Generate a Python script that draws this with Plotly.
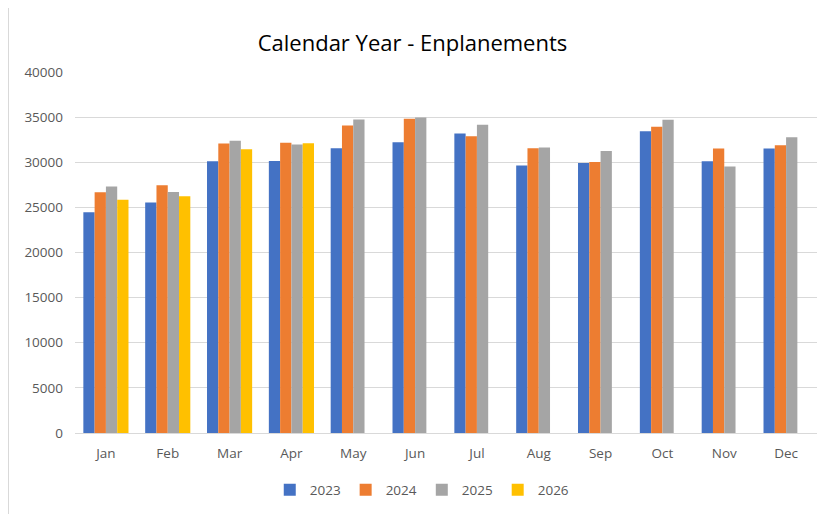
import plotly.graph_objects as go

months = ["Jan", "Feb", "Mar", "Apr", "May", "Jun", "Jul", "Aug", "Sep", "Oct", "Nov", "Dec"]
y2023 = [24450, 25550, 30110, 30150, 31560, 32220, 33190, 29630, 29930, 33440, 30110, 31520]
y2024 = [26670, 27440, 32070, 32150, 34070, 34820, 32890, 31560, 30040, 33930, 31520, 31890]
y2025 = [27300, 26700, 32370, 31960, 34740, 34960, 34150, 31630, 31260, 34700, 29520, 32780]
y2026 = [25850, 26220, 31440, 32110, None, None, None, None, None, None, None, None]

series = [("2023", y2023, "#4472C4"), ("2024", y2024, "#ED7D31"),
          ("2025", y2025, "#A5A5A5"), ("2026", y2026, "#FFC000")]

fig = go.Figure()
for name, vals, col in series:
    fig.add_trace(go.Bar(x=months, y=vals, name=name, marker_color=col,
                         marker_line_width=0))

font_fam = "Open Sans, Liberation Sans, sans-serif"
W, H = 823, 506
L, R, T, B = 67, 14, 64, 81
pw, ph = W - L - R, H - T - B
fig.update_layout(
    width=W, height=H,
    barmode="group", bargap=0.27, bargroupgap=0,
    margin=dict(l=L, r=R, t=T, b=B, autoexpand=False),
    paper_bgcolor="white", plot_bgcolor="white",
    title=dict(text="Calendar Year - Enplanements", x=404.5 / W, xanchor="center",
               y=1 - 35 / H, yanchor="middle",
               font=dict(family=font_fam, size=22, color="#000000")),
    font=dict(family=font_fam, size=13, color="#595959"),
    xaxis=dict(showgrid=False, showline=True, linecolor="#d9d9d9", linewidth=1,
               ticks="", ticklabelstandoff=8, automargin=False,
               tickfont=dict(size=13.5, color="#595959")),
    yaxis=dict(range=[0, 40000], dtick=5000, showgrid=True, gridcolor="#d9d9d9",
               gridwidth=1, zeroline=False, tickformat="d", ticks="",
               ticklabelstandoff=11, automargin=False,
               tickfont=dict(size=13.5, color="#595959")),
    legend=dict(orientation="h", x=0.468, xanchor="center", y=-57 / ph, yanchor="middle",
                font=dict(size=13.5, color="#595959"), traceorder="normal",
                itemwidth=30),
    shapes=[dict(type="line", xref="paper", yref="paper",
                 x0=-L / pw, x1=-L / pw, y0=-B / ph, y1=1 + T / ph,
                 line=dict(color="#d9d9d9", width=2), layer="below")],
)

fig.write_html("out.html")
